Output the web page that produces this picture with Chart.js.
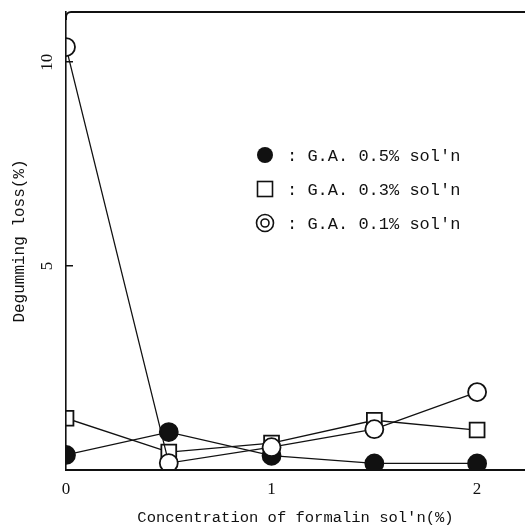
<!DOCTYPE html>
<html>
<head>
<meta charset="utf-8">
<script src="https://cdn.jsdelivr.net/npm/chart.js@4.4.1/dist/chart.umd.min.js"></script>
<style>
  html, body { margin: 0; padding: 0; background: #fff; overflow: hidden; }
  #wrap { position: relative; width: 525px; height: 527px; }
</style>
</head>
<body>
<div id="wrap"><canvas id="grafico"></canvas></div>
<script>
// concentration of formalin sol'n (%)
const formalin = [0, 0.5, 1, 1.5, 2];

// degumming loss (%) for each G.A. solution
const ga05 = [0.37, 0.93, 0.35, 0.16, 0.16];
const ga03 = [1.27, 0.44, 0.66, 1.22, 0.98];
const ga01 = [10.37, 0.17, 0.56, 1.0, 1.91];

const seriesLabels = ["G.A. 0.5% sol'n", "G.A. 0.3% sol'n", "G.A. 0.1% sol'n"];

const xTicks = [0, 1, 2];
const yTicks = [5, 10];

const ink = '#111';

function toPoints(values) {
    return values.map((v, i) => ({x: formalin[i], y: v}));
}

// markers sitting on the axes are cut by the frame in the original:
// paint over whatever spills out of the plot, the axis layers (z: 1) come after this
const maskOutside = {
    id: 'maskOutside',
    afterDatasetsDraw(chart) {
        const {ctx, chartArea, width, height} = chart;
        ctx.save();
        ctx.fillStyle = '#fff';
        ctx.fillRect(0, 0, chartArea.left, height);
        ctx.fillRect(0, chartArea.bottom, width, height - chartArea.bottom);
        ctx.fillRect(0, 0, width, chartArea.top);
        ctx.restore();
    }
};

// top edge of the frame (the right edge is cut off in the original)
const frameTop = {
    id: 'frameTop',
    afterDraw(chart) {
        const {ctx, chartArea} = chart;
        ctx.save();
        ctx.strokeStyle = ink;
        ctx.lineWidth = 2;
        ctx.beginPath();
        ctx.moveTo(chartArea.left, chartArea.top + 8);
        ctx.arcTo(chartArea.left, chartArea.top, chartArea.left + 8, chartArea.top, 5);
        ctx.lineTo(chartArea.right, chartArea.top);
        ctx.stroke();
        ctx.restore();
    }
};

// legend sitting inside the plot, symbol then ": label"
const legendBox = {
    id: 'legendBox',
    afterDraw(chart) {
        const ctx = chart.ctx;
        ctx.save();
        chart.data.datasets.forEach((ds, i) => {
            const x = 265;
            const y = 155 + i * 34;
            ctx.strokeStyle = ink;
            ctx.fillStyle = ink;
            ctx.lineWidth = 1.6;
            if (ds.symbol === 'dot') {
                ctx.beginPath();
                ctx.arc(x, y, 8, 0, Math.PI * 2);
                ctx.fill();
            } else if (ds.symbol === 'square') {
                ctx.strokeRect(x - 7.5, y - 7.5, 15, 15);
            } else {
                ctx.beginPath();
                ctx.arc(x, y, 8.5, 0, Math.PI * 2);
                ctx.stroke();
                ctx.beginPath();
                ctx.arc(x, y, 4, 0, Math.PI * 2);
                ctx.stroke();
            }
            ctx.font = "17px 'Liberation Mono'";
            ctx.textBaseline = 'middle';
            ctx.fillText(': ' + ds.label, 287, y + 1);
        });
        ctx.restore();
    }
};

const common = {
    borderColor: ink,
    borderWidth: 1.3,
    pointBorderColor: ink,
    pointBorderWidth: 1.8,
    tension: 0
};

new Chart(document.getElementById('grafico'), {
    type: 'line',
    data: {
        datasets: [
            Object.assign({
                label: seriesLabels[0],
                symbol: 'dot',
                data: toPoints(ga05),
                pointStyle: 'circle',
                pointRadius: 9,
                pointHoverRadius: 9,
                pointBackgroundColor: ink,
                order: 1
            }, common),
            Object.assign({
                label: seriesLabels[1],
                symbol: 'square',
                data: toPoints(ga03),
                pointStyle: 'rect',
                pointRadius: 10.5,
                pointHoverRadius: 10.5,
                pointBackgroundColor: '#fff',
                order: 2
            }, common),
            Object.assign({
                label: seriesLabels[2],
                symbol: 'ring',
                data: toPoints(ga01),
                pointStyle: 'circle',
                pointRadius: 9,
                pointHoverRadius: 9,
                pointBackgroundColor: '#fff',
                order: 0
            }, common)
        ]
    },
    options: {
        responsive: true,
        maintainAspectRatio: false,
        animation: false,
        layout: {autoPadding: false, padding: {top: 12, right: 0, bottom: 0, left: 0}},
        plugins: {
            legend: {display: false},
            tooltip: {enabled: false}
        },
        scales: {
            x: {
                type: 'linear',
                min: 0,
                max: 2.233,
                afterBuildTicks: (scale) => { scale.ticks = xTicks.map(v => ({value: v})); },
                afterFit: (scale) => {
                    scale.height = 57;
                    scale.paddingLeft = 0;
                    scale.paddingRight = 0;
                },
                border: {color: ink, width: 2, z: 1},
                grid: {drawOnChartArea: false, drawTicks: false, z: 1},
                ticks: {
                    z: 1,
                    color: ink,
                    padding: 9,
                    font: {family: 'Liberation Serif', size: 17}
                },
                title: {
                    display: true,
                    text: "Concentration of formalin sol'n(%)",
                    color: ink,
                    padding: {top: 0, bottom: 0},
                    font: {family: 'Liberation Mono', size: 15.5}
                }
            },
            y: {
                type: 'linear',
                min: 0,
                max: 11.23,
                afterBuildTicks: (scale) => { scale.ticks = yTicks.map(v => ({value: v})); },
                afterFit: (scale) => {
                    scale.width = 66;
                    scale.paddingTop = 0;
                    scale.paddingBottom = 0;
                },
                border: {color: ink, width: 1.6, z: 1},
                grid: {drawOnChartArea: false, drawTicks: true, tickLength: -7, color: ink, lineWidth: 1.5, z: 1},
                ticks: {
                    z: 1,
                    color: ink,
                    padding: 17,
                    minRotation: 90,
                    maxRotation: 90,
                    crossAlign: 'center',
                    font: {family: 'Liberation Serif', size: 17}
                },
                title: {
                    display: true,
                    text: 'Degumming loss(%)',
                    color: ink,
                    padding: {top: 10, bottom: 0},
                    font: {family: 'Liberation Mono', size: 16}
                }
            }
        }
    },
    plugins: [maskOutside, frameTop, legendBox]
});
</script>
</body>
</html>
